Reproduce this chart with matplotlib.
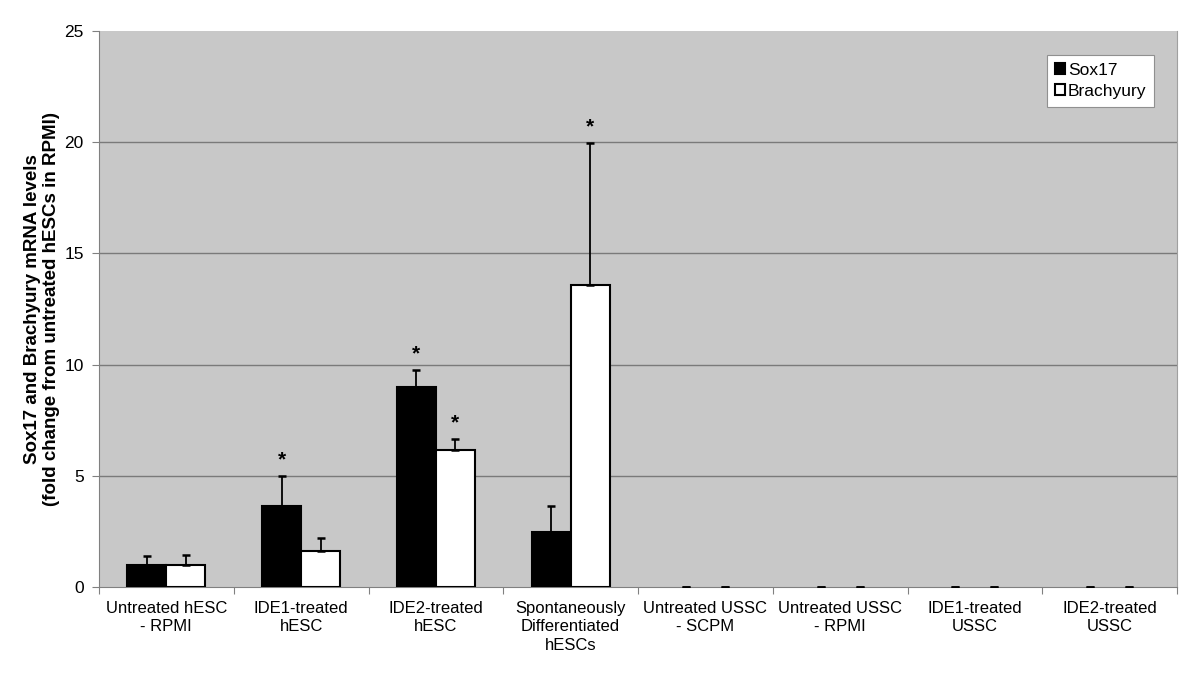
import matplotlib
matplotlib.use("Agg")
import matplotlib.pyplot as plt
import numpy as np

plt.rcParams['font.family'] = ['Liberation Sans', 'DejaVu Sans']

categories = ["Untreated hESC\n- RPMI", "IDE1-treated\nhESC", "IDE2-treated\nhESC",
              "Spontaneously\nDifferentiated\nhESCs", "Untreated USSC\n- SCPM",
              "Untreated USSC\n- RPMI", "IDE1-treated\nUSSC", "IDE2-treated\nUSSC"]
sox17 = [1.0, 3.64, 9.0, 2.47, 0, 0, 0, 0]
sox17_err = [0.4, 1.36, 0.75, 1.17, 0, 0, 0, 0]
brachyury = [1.0, 1.62, 6.16, 13.58, 0, 0, 0, 0]
brachyury_err = [0.43, 0.58, 0.49, 6.38, 0, 0, 0, 0]
sox17_sig = [False, True, True, False, False, False, False, False]
brachyury_sig = [False, False, True, True, False, False, False, False]
yticks = [0, 5, 10, 15, 20, 25]

fig = plt.figure(figsize=(12, 6.85), dpi=100)
ax = fig.add_axes([99/1200, 1-587/685, (1177-99)/1200, (587-31)/685])
ax.set_facecolor('#C8C8C8')

n = len(categories)
x = np.arange(n)
w = 0.29
xs = x - w/2
xb = x + w/2

lw_s = [1.5 if v > 0 else 0 for v in sox17]
lw_b = [1.5 if v > 0 else 0 for v in brachyury]
b1 = ax.bar(xs, sox17, w, color='black', edgecolor='black', linewidth=lw_s, zorder=3)
b2 = ax.bar(xb, brachyury, w, color='white', edgecolor='black', linewidth=lw_b, zorder=3)

zeros = [0]*n
ax.errorbar(xs, sox17, yerr=[zeros, sox17_err], fmt='none', ecolor='black',
            elinewidth=1.3, capsize=3, capthick=1.8, zorder=4)
ax.errorbar(xb, brachyury, yerr=[zeros, brachyury_err], fmt='none', ecolor='black',
            elinewidth=1.3, capsize=3, capthick=1.8, zorder=4)

for xi, v, e, s in zip(xs, sox17, sox17_err, sox17_sig):
    if s:
        ax.text(xi, v + e + 0.3, '*', ha='center', va='bottom', fontsize=15, fontweight='bold')
for xi, v, e, s in zip(xb, brachyury, brachyury_err, brachyury_sig):
    if s:
        ax.text(xi, v + e + 0.3, '*', ha='center', va='bottom', fontsize=15, fontweight='bold')

ax.set_xlim(-0.5, n - 0.5)
ax.set_ylim(0, 25)
ax.set_yticks(yticks)
for yv in yticks[1:-1]:
    ax.axhline(yv, color='#7a7a7a', linewidth=1.0, zorder=1)

ax.set_xticks(np.arange(n + 1) - 0.5)
ax.set_xticklabels([])
ax.set_xticks(x, minor=True)
ax.set_xticklabels(categories, minor=True, fontsize=12, linespacing=1.3)
ax.tick_params(axis='x', which='minor', length=0, pad=10)
ax.tick_params(axis='x', which='major', length=5, color='#808080', direction='out')
ax.tick_params(axis='y', length=5, color='#808080', labelsize=12.5, pad=6)

ax.spines['top'].set_visible(False)
ax.spines['right'].set_color('#a0a0a0')
ax.spines['left'].set_color('#808080')
ax.spines['bottom'].set_color('#808080')

ax.set_ylabel("Sox17 and Brachyury mRNA levels\n(fold change from untreated hESCs in RPMI)",
              fontsize=13.5, fontweight='bold', linespacing=1.2)
ax.yaxis.set_label_coords(-0.036, 0.5)

leg = ax.legend([b1, b2], ['Sox17', 'Brachyury'], loc='upper right', bbox_to_anchor=(0.979, 0.957),
                fontsize=12.5, frameon=True, fancybox=False, edgecolor='#909090',
                handlelength=0.6, handleheight=0.6, handletextpad=0.15,
                borderpad=0.45, labelspacing=0.35, borderaxespad=0)
leg.get_frame().set_linewidth(0.8)
leg.get_frame().set_facecolor('white')
leg.get_frame().set_alpha(1)

fig.savefig('out.png', dpi=100)
